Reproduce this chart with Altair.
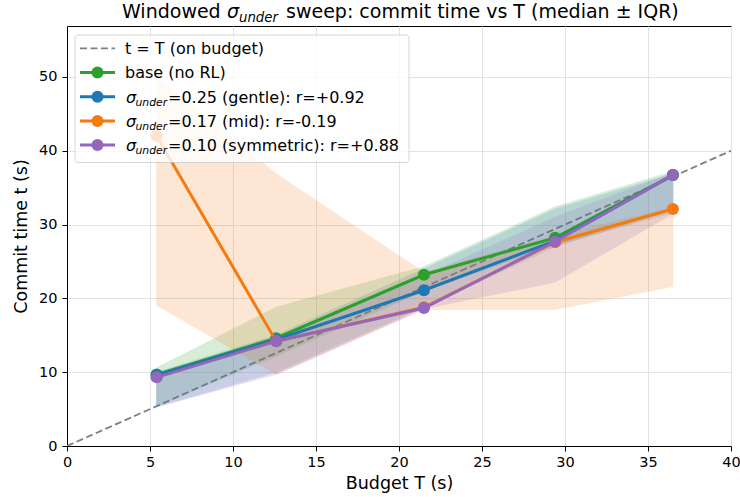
import altair as alt
import pandas as pd

# ---- data ----
budget_T = [5.4, 12.6, 21.5, 29.4, 36.5]

base_med = [9.7, 14.6, 23.2, 28.2, 36.7]
base_q1 = [5.4, 12.2, 21.0, 27.2, 31.6]
base_q3 = [10.6, 18.8, 24.3, 32.4, 37.2]

gentle_med = [9.6, 14.4, 21.1, 27.8, 36.7]
gentle_q1 = [5.3, 10.0, 18.8, 27.0, 32.0]
gentle_q3 = [10.0, 15.0, 24.0, 32.1, 36.9]

mid_med = [42.0, 14.2, 18.8, 27.6, 32.1]
mid_q1 = [19.1, 9.7, 18.5, 18.5, 21.6]
mid_q3 = [50.0, 36.9, 23.5, 28.5, 32.3]

sym_med = [9.3, 14.2, 18.7, 27.7, 36.7]
sym_q1 = [5.3, 9.7, 18.6, 22.2, 31.5]
sym_q3 = [9.8, 14.6, 23.0, 31.0, 37.0]

diag_x = [0, 40]
diag_y = [0, 40]

series = [
    ("base", base_med, base_q1, base_q3, "#2ca02c"),
    ("gentle", gentle_med, gentle_q1, gentle_q3, "#1f77b4"),
    ("mid", mid_med, mid_q1, mid_q3, "#f57a10"),
    ("sym", sym_med, sym_q1, sym_q3, "#9467bd"),
]

FONT = "DejaVu Sans"
xs = alt.Scale(domain=[0, 40], nice=False, zero=False)
ys = alt.Scale(domain=[0, 56.9], nice=False, zero=False)

x_axis = alt.Axis(values=list(range(0, 41, 5)), title="Budget T (s)", format="d",
                  labelPadding=4, titlePadding=6, labelFlush=False)
y_axis = alt.Axis(values=list(range(0, 51, 10)), title="Commit time t (s)", format="d",
                  labelPadding=5, titlePadding=8, labelFlush=False)

layers = []

diag = pd.DataFrame({"T": diag_x, "t": diag_y})
layers.append(
    alt.Chart(diag).mark_line(color="#808080", strokeWidth=1.8, strokeDash=[7, 3.5], clip=True)
    .encode(x=alt.X("T:Q", scale=xs, axis=x_axis), y=alt.Y("t:Q", scale=ys, axis=y_axis))
)

frames = []
for name, med, q1, q3, col in series:
    frames.append((pd.DataFrame({"T": budget_T, "med": med, "q1": q1, "q3": q3}), col))

for df, col in frames:
    layers.append(alt.Chart(df).mark_area(color=col, opacity=0.18, stroke=col, strokeWidth=0.8,
                                          clip=True).encode(
        x=alt.X("T:Q", scale=xs), y=alt.Y("q1:Q", scale=ys), y2="q3:Q"))

for df, col in frames:
    base = alt.Chart(df)
    layers.append(base.mark_line(color=col, strokeWidth=3, clip=True).encode(
        x=alt.X("T:Q", scale=xs), y=alt.Y("med:Q", scale=ys)))
    layers.append(base.mark_point(color=col, filled=True, opacity=1, size=145, clip=True).encode(
        x=alt.X("T:Q", scale=xs), y=alt.Y("med:Q", scale=ys)))

# ---- manual legend (matplotlib style) ----
one = pd.DataFrame({"k": [0]})

layers.append(alt.Chart(one).mark_rect(fill="white", opacity=0.8, stroke="#cccccc",
                                       strokeWidth=1, cornerRadius=3)
              .encode(x=alt.value(8), x2=alt.value(342), y=alt.value(9), y2=alt.value(136.5)))

row_y = [22.3, 46.5, 70.7, 94.9, 119.1]
LFS = 16
layers.append(alt.Chart(one).mark_rule(color="#808080", strokeWidth=1.8, strokeDash=[7, 3.5])
              .encode(x=alt.value(13), x2=alt.value(48), y=alt.value(row_y[0])))
layers.append(alt.Chart(one).mark_text(text="t = T (on budget)", align="left", baseline="alphabetic",
                                       font=FONT, fontSize=LFS, color="black")
              .encode(x=alt.value(58), y=alt.value(row_y[0] + 5.8)))

labels = [
    ("base", None, "base (no RL)"),
    ("gentle", "σ", "=0.25 (gentle): r=+0.92"),
    ("mid", "σ", "=0.17 (mid): r=-0.19"),
    ("sym", "σ", "=0.10 (symmetric): r=+0.88"),
]
for i, ((name, med, q1, q3, col), (_, sig, rest)) in enumerate(zip(series, labels)):
    yy = row_y[i + 1]
    layers.append(alt.Chart(one).mark_rule(color=col, strokeWidth=3)
                  .encode(x=alt.value(13), x2=alt.value(48), y=alt.value(yy)))
    layers.append(alt.Chart(one).mark_point(color=col, filled=True, opacity=1, size=145)
                  .encode(x=alt.value(30.5), y=alt.value(yy)))
    if sig is None:
        layers.append(alt.Chart(one).mark_text(text=rest, align="left", baseline="alphabetic",
                                               font=FONT, fontSize=LFS, color="black")
                      .encode(x=alt.value(58), y=alt.value(yy + 5.8)))
    else:
        layers.append(alt.Chart(one).mark_text(text="σ", align="left", baseline="alphabetic",
                                               font=FONT, fontSize=LFS, fontStyle="italic", color="black")
                      .encode(x=alt.value(59), y=alt.value(yy + 5.8)))
        layers.append(alt.Chart(one).mark_text(text="under", align="left", baseline="alphabetic",
                                               font=FONT, fontSize=10.8, fontStyle="italic", color="black")
                      .encode(x=alt.value(68.5), y=alt.value(yy + 9.2)))
        layers.append(alt.Chart(one).mark_text(text=rest, align="left", baseline="alphabetic",
                                               font=FONT, fontSize=LFS, color="black")
                      .encode(x=alt.value(101), y=alt.value(yy + 5.8)))

# ---- title with subscript (relative to plot origin at 67,26) ----
TFS = 19
layers.append(alt.Chart(one).mark_text(text="Windowed", align="left", baseline="alphabetic",
                                       font=FONT, fontSize=TFS, color="black")
              .encode(x=alt.value(55), y=alt.value(-8.5)))
layers.append(alt.Chart(one).mark_text(text="σ", align="left", baseline="alphabetic",
                                       font=FONT, fontSize=TFS, fontStyle="italic", color="black")
              .encode(x=alt.value(160), y=alt.value(-8.5)))
layers.append(alt.Chart(one).mark_text(text="under", align="left", baseline="alphabetic",
                                       font=FONT, fontSize=13.3, fontStyle="italic", color="black")
              .encode(x=alt.value(172), y=alt.value(-4.0)))
layers.append(alt.Chart(one).mark_text(text="sweep: commit time vs T (median ± IQR)", align="left",
                                       baseline="alphabetic", font=FONT, fontSize=TFS, color="black")
              .encode(x=alt.value(219), y=alt.value(-8.5)))

chart = alt.layer(*layers).properties(
    width=664, height=420,
    background="white",
    autosize=alt.AutoSizeParams(type="none"),
    padding={"left": 67, "top": 26, "right": 9, "bottom": 51},
).configure_view(stroke="black", strokeWidth=1).configure_axis(
    domainColor="black", domainWidth=1, tickColor="black", tickSize=5, tickWidth=1,
    labelFont=FONT, labelFontSize=14.5, labelColor="black",
    titleFont=FONT, titleFontSize=17.5, titleFontWeight="normal", titleColor="black",
    grid=True, gridColor="#e3e3e3", gridWidth=1,
)

chart.save("out.html", embed_options={"renderer": "svg", "actions": False})
